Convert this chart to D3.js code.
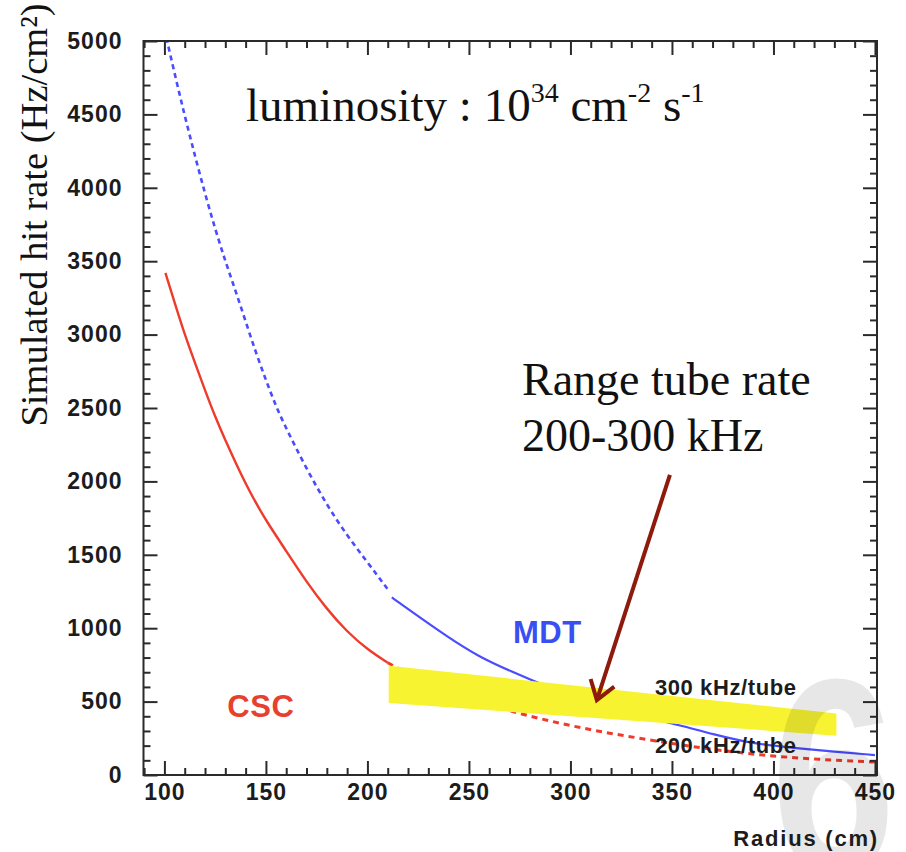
<!DOCTYPE html>
<html><head><meta charset="utf-8">
<script src="https://cdn.jsdelivr.net/npm/d3@7/dist/d3.min.js"></script>
<style>body{margin:0;background:#fff}svg{display:block}</style>
</head><body>
<svg id="c" width="906" height="852"></svg>
<script>
// ---------- data ----------
const mdtDashR  = [100, 105, 110, 115, 120, 125, 130, 135, 140, 145, 150, 155, 160, 170, 180, 190, 200, 210];
const mdtDashV  = [5080,4780,4490,4220,3960,3720,3500,3300,3090,2880,2690,2510,2360,2085,1840,1630,1450,1265];
const mdtSolidR = [212, 220, 240, 255, 270, 290, 300, 320, 340, 355, 370, 390, 410, 430, 450];
const mdtSolidV = [1210,1130,935, 805, 710, 593, 540, 450, 385, 335, 278, 213, 184, 158, 136];
const cscSolidR = [100.5,105, 110, 115, 120, 125, 130, 135, 140, 145, 150, 160, 170, 180, 190, 200, 210];
const cscSolidV = [3420, 3220,3000,2810,2620,2440,2280,2130,1985,1855,1735,1525,1315,1130,975, 855, 765];
const cscDotR   = [210, 220, 240, 260, 280, 300, 320, 340, 360, 380, 400, 420, 440, 450];
const cscDotV   = [765, 690, 570, 475, 400, 335, 282, 237, 193, 157, 128, 108, 94,  88];
// 200-300 kHz/tube band (radius, upper and lower rate)
const bandR      = [210.5, 431];
const bandUpper  = [745, 419];
const bandLower  = [491, 268];
// axes
const xDomain = [89.7, 451];
const yDomain = [0, 5000];
const xMajorTicks = [100, 150, 200, 250, 300, 350, 400, 450];
const yMajorTicks = [0, 500, 1000, 1500, 2000, 2500, 3000, 3500, 4000, 4500, 5000];
// annotations (data coordinates)
const arrowFrom = [349, 2045];
const arrowTo   = [313, 510];
const labels = [
  {text: "MDT", r: 271.7, v: 899, color: "#3a4ff2", size: 31},
  {text: "CSC", r: 131, v: 395, color: "#e8402e", size: 31},
  {text: "300 kHz/tube", r: 341.6, v: 545, color: "#1c1c1c", size: 22},
  {text: "200 kHz/tube", r: 341.6, v: 150, color: "#1c1c1c", size: 22}
];

// ---------- drawing ----------
const svg = d3.select("#c");
const x = d3.scaleLinear().domain(xDomain).range([143.5, 877]);
const y = d3.scaleLinear().domain(yDomain).range([775, 41]);

svg.append("defs").append("clipPath").attr("id", "plot")
  .append("rect").attr("x", x(xDomain[0])).attr("y", y(yDomain[1]))
  .attr("width", x(xDomain[1]) - x(xDomain[0])).attr("height", y(yDomain[0]) - y(yDomain[1]));

const plot = svg.append("g").attr("clip-path", "url(#plot)");
const line = d3.line().x(d => x(d[0])).y(d => y(d[1])).curve(d3.curveBasis);
const zip = (a, b) => a.map((v, i) => [v, b[i]]);

plot.append("path").datum(zip(mdtDashR, mdtDashV)).attr("d", line)
  .attr("fill", "none").attr("stroke", "#4a4cff").attr("stroke-width", 2.6).attr("stroke-dasharray", "5,4");
plot.append("path").datum(zip(mdtSolidR, mdtSolidV)).attr("d", line)
  .attr("fill", "none").attr("stroke", "#4a4cff").attr("stroke-width", 2.2);
plot.append("path").datum(zip(cscSolidR, cscSolidV)).attr("d", line)
  .attr("fill", "none").attr("stroke", "#ef3b2b").attr("stroke-width", 2.4);
plot.append("path").datum(zip(cscDotR, cscDotV)).attr("d", line)
  .attr("fill", "none").attr("stroke", "#ef3b2b").attr("stroke-width", 3).attr("stroke-dasharray", "6,5");

// yellow band
const bandPts = [[bandR[0], bandUpper[0]], [bandR[1], bandUpper[1]], [bandR[1], bandLower[1]], [bandR[0], bandLower[0]]];
svg.append("polygon").attr("points", bandPts.map(p => [x(p[0]), y(p[1])].join(",")).join(" "))
  .attr("fill", "#f8f330");

// axes
function styleAxis(g) {
  g.select(".domain").remove();
  g.selectAll(".tick line").attr("stroke", "#2a2a2a").attr("stroke-width", 2);
  g.selectAll(".tick text").attr("fill", "#1c1c1c")
    .style("font-family", "'Liberation Sans', Arial, sans-serif")
    .style("font-weight", "bold").style("font-size", "23px").style("letter-spacing", "1px");
}
const xMinor = d3.range(90, 451, 10).filter(v => v % 50 !== 0);
const yMinor = d3.range(0, 5001, 100).filter(v => v % 500 !== 0);
const fmt = d3.format("d");

svg.append("g").attr("transform", `translate(0,${y(0)})`)
  .call(d3.axisBottom(x).tickValues(xMajorTicks).tickSizeInner(-14).tickSizeOuter(0).tickPadding(9).tickFormat(fmt)).call(styleAxis);
svg.append("g").attr("transform", `translate(0,${y(0)})`)
  .call(d3.axisBottom(x).tickValues(xMinor).tickSizeInner(-7).tickSizeOuter(0).tickFormat("")).call(styleAxis);
svg.append("g").attr("transform", `translate(0,${y(5000)})`)
  .call(d3.axisTop(x).tickValues(xMajorTicks).tickSizeInner(-14).tickSizeOuter(0).tickFormat("")).call(styleAxis);
svg.append("g").attr("transform", `translate(0,${y(5000)})`)
  .call(d3.axisTop(x).tickValues(xMinor).tickSizeInner(-7).tickSizeOuter(0).tickFormat("")).call(styleAxis);
svg.append("g").attr("transform", `translate(${x(xDomain[0])},0)`)
  .call(d3.axisLeft(y).tickValues(yMajorTicks).tickSizeInner(-14).tickSizeOuter(0).tickPadding(21).tickFormat(fmt)).call(styleAxis);
svg.append("g").attr("transform", `translate(${x(xDomain[0])},0)`)
  .call(d3.axisLeft(y).tickValues(yMinor).tickSizeInner(-7).tickSizeOuter(0).tickFormat("")).call(styleAxis);
svg.append("g").attr("transform", `translate(${x(xDomain[1])},0)`)
  .call(d3.axisRight(y).tickValues(yMajorTicks).tickSizeInner(-14).tickSizeOuter(0).tickFormat("")).call(styleAxis);
svg.append("g").attr("transform", `translate(${x(xDomain[1])},0)`)
  .call(d3.axisRight(y).tickValues(yMinor).tickSizeInner(-7).tickSizeOuter(0).tickFormat("")).call(styleAxis);

// frame
svg.append("rect").attr("x", x(xDomain[0])).attr("y", y(yDomain[1]))
  .attr("width", x(xDomain[1]) - x(xDomain[0])).attr("height", y(yDomain[0]) - y(yDomain[1]))
  .attr("fill", "none").attr("stroke", "#2a2a2a").attr("stroke-width", 2);

// slide-number watermark (behind the labels)
svg.append("text").attr("transform", "translate(771,874) scale(0.8,1)")
  .style("font-family", "'Liberation Sans', Arial, sans-serif").style("font-weight", "bold")
  .style("font-size", "280px").attr("fill", "#000").attr("opacity", 0.09).text("6");

// in-plot labels
svg.selectAll("text.lab").data(labels).enter().append("text").attr("class", "lab")
  .attr("x", d => x(d.r)).attr("y", d => y(d.v)).text(d => d.text)
  .attr("fill", d => d.color).style("font-size", d => d.size + "px")
  .style("font-family", "'Liberation Sans', Arial, sans-serif").style("font-weight", "bold")
  .style("letter-spacing", d => d.size < 25 ? "0.6px" : "0.5px");

// arrow
const ax0 = x(arrowFrom[0]), ay0 = y(arrowFrom[1]), ax1 = x(arrowTo[0]), ay1 = y(arrowTo[1]);
const ang = Math.atan2(ay0 - ay1, ax0 - ax1), wing = 22, spread = 0.6;
svg.append("line").attr("x1", ax0).attr("y1", ay0).attr("x2", ax1).attr("y2", ay1)
  .attr("stroke", "#8e1a0c").attr("stroke-width", 4);
svg.append("path")
  .attr("d", `M${ax1 + wing * Math.cos(ang - spread)},${ay1 + wing * Math.sin(ang - spread)} L${ax1},${ay1} L${ax1 + wing * Math.cos(ang + spread)},${ay1 + wing * Math.sin(ang + spread)}`)
  .attr("fill", "none").attr("stroke", "#8e1a0c").attr("stroke-width", 4).attr("stroke-linejoin", "miter");

// serif annotations
const serif = "'Liberation Serif', 'Times New Roman', serif";
const lum = svg.append("text").attr("x", 246).attr("y", 121)
  .style("font-family", serif).style("font-size", "47px").attr("fill", "#111");
lum.append("tspan").text("luminosity : 10");
lum.append("tspan").text("34").attr("dy", -19).style("font-size", "28px");
lum.append("tspan").text(" cm").attr("dy", 19);
lum.append("tspan").text("-2").attr("dy", -19).style("font-size", "28px");
lum.append("tspan").text(" s").attr("dy", 19);
lum.append("tspan").text("-1").attr("dy", -19).style("font-size", "28px");

const rng = svg.append("text").style("font-family", serif).style("font-size", "46px").attr("fill", "#111");
rng.append("tspan").attr("x", 522).attr("y", 395).text("Range tube rate");
rng.append("tspan").attr("x", 522).attr("y", 451).text("200-300 kHz");

// axis titles
svg.append("text").attr("transform", "translate(47,215) rotate(-90)").attr("text-anchor", "middle")
  .style("font-family", serif).style("font-size", "38.5px").attr("fill", "#111")
  .text("Simulated hit rate (Hz/cm²)");
svg.append("text").attr("x", 879).attr("y", 846).attr("text-anchor", "end")
  .style("font-family", "'Liberation Sans', Arial, sans-serif").style("font-weight", "bold")
  .style("font-size", "22px").style("letter-spacing", "1.8px").attr("fill", "#1c1c1c")
  .text("Radius (cm)");
</script>
</body></html>
